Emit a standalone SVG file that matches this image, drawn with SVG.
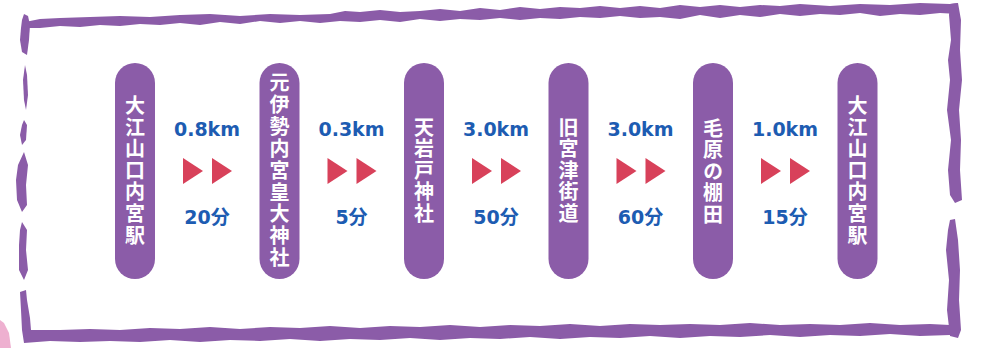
<svg xmlns="http://www.w3.org/2000/svg" width="982" height="348" viewBox="0 0 982 348">
<style>
.frame{fill:#8b5ca8}
.pill{fill:#8b5ca8}
.nt{font-family:"Noto Sans CJK JP","Noto Sans CJK SC",sans-serif;font-weight:700;font-size:20px;fill:#ffffff;text-anchor:middle;writing-mode:vertical-rl;letter-spacing:1.6px}
.km{font-family:"DejaVu Sans","Liberation Sans",sans-serif;font-weight:700;font-size:19px;fill:#1d5cb2;text-anchor:middle}
.tm{font-family:"DejaVu Sans","Noto Sans CJK JP",sans-serif;font-weight:700;font-size:19px;fill:#1d5cb2;text-anchor:middle}
.tri{fill:#d8415a}
</style>
<rect width="982" height="348" fill="#ffffff"/>
<polygon points="0,320 4,323 9,333 11,348 0,348" fill="#eeb0d0"/>
<g id="frame">
<path class="frame" d="M25,22 L40,19 L60,18 L90,17 L120,16 L150,17 L180,15 L210,14 L240,16 L270,14 L300,15 L330,14 L345,11 L360,12 L380,10 L400,12 L420,11 L440,9 L460,11 L480,8 L500,10 L520,7 L540,9 L560,7 L580,8 L600,6 L620,8 L640,6 L660,8 L680,5 L700,7 L720,5 L740,7 L760,5 L780,6 L800,4 L830,6 L860,4 L890,5 L920,3 L950,4 L958,3 L958,14 L940,13 L920,15 L900,14 L880,16 L860,13 L840,15 L820,14 L800,16 L780,14 L760,17 L740,15 L720,18 L700,15 L680,19 L660,17 L640,18 L620,16 L600,18 L580,17 L560,19 L540,18 L520,20 L500,18 L480,20 L460,19 L440,21 L420,19 L400,22 L380,20 L360,22 L340,21 L320,23 L300,21 L280,23 L260,21 L240,24 L220,22 L200,25 L180,23 L160,25 L140,24 L120,26 L100,25 L80,27 L60,26 L40,28 L25,28 Z"/>
<path class="frame" d="M24,14 L28,16 L30,25 L29,40 L27,55 L22,52 L20,40 L21,28 L22,20 Z"/>
<path class="frame" d="M25,65 L27,75 L28,95 L26,110 L24,100 L23,80 Z"/>
<path class="frame" d="M24,120 L27,125 L26,140 L22,145 L20,135 L22,125 Z"/>
<path class="frame" d="M24,152 L28,165 L26,185 L27,205 L22,212 L17,200 L16,180 L18,165 Z"/>
<path class="frame" d="M22,222 L27,230 L26,250 L28,270 L24,280 L19,270 L19,245 L20,230 Z"/>
<path class="frame" d="M20,292 L26,290 L27,300 L30,318 L31,330 L60,330 L90,329 L120,330 L150,328 L180,329 L210,327 L240,329 L270,327 L300,328 L330,326 L360,328 L390,326 L420,327 L450,325 L480,327 L510,325 L540,326 L570,324 L600,326 L630,324 L660,325 L690,324 L720,325 L750,323 L780,325 L810,324 L840,325 L870,323 L900,325 L930,324 L950,325 L950,335 L920,336 L890,334 L860,336 L830,335 L800,337 L770,335 L740,337 L710,336 L680,338 L650,336 L620,338 L590,337 L560,339 L530,337 L500,339 L470,338 L440,340 L410,338 L380,340 L350,339 L320,341 L290,339 L260,341 L230,340 L200,342 L170,340 L140,342 L110,341 L80,342 L50,341 L24,343 L22,330 L21,310 Z"/>
<path class="frame" d="M950,4 L958,3 L961,20 L960,50 L962,80 L959,110 L961,140 L960,170 L962,200 L955,203 L950,195 L948,170 L951,140 L947,110 L950,80 L948,60 L951,40 L949,15 Z"/>
<path class="frame" d="M950,220 L955,219 L958,240 L960,270 L959,300 L961,330 L958,338 L950,336 L947,310 L949,280 L946,250 L948,230 Z"/>
</g>
<g id="connectors">
<g id="c1">
<text class="km" x="207" y="136">0.8km</text>
<polygon class="tri" points="183,158 203,171 183,184"/>
<polygon class="tri" points="212,158 232,171 212,184"/>
<text class="tm" x="207" y="224">20分</text>
</g>
<g id="c2">
<text class="km" x="351.5" y="136">0.3km</text>
<polygon class="tri" points="327.5,158 347.5,171 327.5,184"/>
<polygon class="tri" points="356.5,158 376.5,171 356.5,184"/>
<text class="tm" x="351.5" y="224">5分</text>
</g>
<g id="c3">
<text class="km" x="496" y="136">3.0km</text>
<polygon class="tri" points="472,158 492,171 472,184"/>
<polygon class="tri" points="501,158 521,171 501,184"/>
<text class="tm" x="496" y="224">50分</text>
</g>
<g id="c4">
<text class="km" x="640.5" y="136">3.0km</text>
<polygon class="tri" points="616.5,158 636.5,171 616.5,184"/>
<polygon class="tri" points="645.5,158 665.5,171 645.5,184"/>
<text class="tm" x="640.5" y="224">60分</text>
</g>
<g id="c5">
<text class="km" x="785" y="136">1.0km</text>
<polygon class="tri" points="761,158 781,171 761,184"/>
<polygon class="tri" points="790,158 810,171 790,184"/>
<text class="tm" x="785" y="224">15分</text>
</g>
</g>
<g id="n1">
<rect class="pill" x="115" y="63" width="40" height="216" rx="20"/>
<text class="nt" x="135" y="171">大江山口内宮駅</text>
</g>
<g id="n2">
<rect class="pill" x="259.5" y="63" width="40" height="216" rx="20"/>
<text class="nt" x="279.5" y="171" style="letter-spacing:1.9px">元伊勢内宮皇大神社</text>
</g>
<g id="n3">
<rect class="pill" x="404" y="63" width="40" height="216" rx="20"/>
<text class="nt" x="424" y="171">天岩戸神社</text>
</g>
<g id="n4">
<rect class="pill" x="548.5" y="63" width="40" height="216" rx="20"/>
<text class="nt" x="568.5" y="171">旧宮津街道</text>
</g>
<g id="n5">
<rect class="pill" x="693" y="63" width="40" height="216" rx="20"/>
<text class="nt" x="713" y="172">毛原の棚田</text>
</g>
<g id="n6">
<rect class="pill" x="837.5" y="63" width="40" height="216" rx="20"/>
<text class="nt" x="857.5" y="171">大江山口内宮駅</text>
</g>
</svg>
